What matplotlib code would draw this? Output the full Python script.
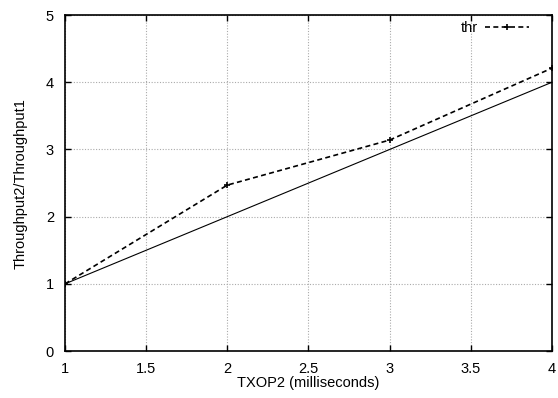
import matplotlib
matplotlib.use('Agg')
import matplotlib.pyplot as plt

txop = [1, 2, 3, 4]
thr = [1.0, 2.47, 3.14, 4.21]
ideal = [1, 2, 3, 4]

xticks = [1, 1.5, 2, 2.5, 3, 3.5, 4]
yticks = [0, 1, 2, 3, 4, 5]

plt.rcParams['font.family'] = ['Liberation Sans', 'DejaVu Sans']
plt.rcParams['font.size'] = 10.5

fig = plt.figure(figsize=(5.58, 3.98), dpi=100)
ax = fig.add_axes([0.1165, 0.118, 0.8725, 0.844])

ax.plot(txop, thr, color='black', linestyle=(0, (3, 2)), linewidth=1.2,
        marker='+', markersize=5, markeredgewidth=1.2, label='thr')
ax.plot(txop, ideal, color='black', linewidth=0.8)

ax.set_xlim(1, 4)
ax.set_ylim(0, 5)
ax.set_xticks(xticks)
ax.set_xticklabels(['1', '1.5', '2', '2.5', '3', '3.5', '4'])
ax.set_yticks(yticks)
ax.tick_params(direction='in', top=True, right=True, length=4, width=1, pad=8)
ax.grid(True, color='#aaaaaa', linestyle=(0, (1, 1.5)), linewidth=0.8)
for s in ax.spines.values():
    s.set_linewidth(1.2)

ax.set_xlabel('TXOP2 (milliseconds)', labelpad=0)
ax.set_ylabel('Throughput2/Throughput1', labelpad=13)

ax.legend(loc='upper right', frameon=False, markerfirst=False, handlelength=3.0,
          borderaxespad=0.2, borderpad=0.2, handletextpad=0.5, fontsize=10.5,
          bbox_to_anchor=(0.965, 1.0))

fig.savefig('out.png', dpi=100)
